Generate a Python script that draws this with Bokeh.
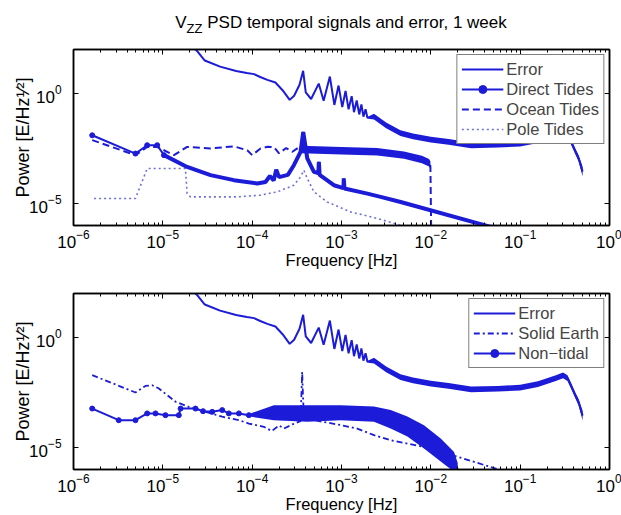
from bokeh.plotting import figure
from bokeh.layouts import column
from bokeh.models import (FixedTicker, LogAxis, Legend, LegendItem, Div,
                          CustomJSTickFormatter)
from bokeh.embed import file_html
from bokeh.resources import INLINE

BLUE = "#1c1cd8"
POLE = "#6f6fdc"
FONT = "Liberation Sans"

title_main = "V"
title_sub = "ZZ"
title_rest = " PSD temporal signals and error, 1 week"
x_label = "Frequency [Hz]"
y_label = "Power [E/Hz\u00b9\u2044\u00b2]"

x_ticks = [1e-6, 1e-5, 1e-4, 1e-3, 1e-2, 1e-1, 1e0]
x_minor = [m * 10.0 ** e for e in range(-6, 0) for m in range(2, 10)]
y_ticks = [1e-5, 1e0]

# ---------------- Error (same in both panels) ----------------
err_f = [2.19e-5, 2.40e-5, 2.95e-5, 4.37e-5, 6.61e-5, 8.71e-5, 1.05e-4, 1.23e-4,
         1.48e-4, 1.82e-4, 2.19e-4, 2.63e-4, 2.95e-4, 3.39e-4, 3.72e-4, 3.98e-4,
         4.57e-4, 5.56e-4, 6.31e-4, 7.41e-4, 8.32e-4, 9.27e-4, 1.02e-3, 1.11e-3,
         1.20e-3, 1.30e-3, 1.38e-3, 1.48e-3, 1.58e-3, 1.67e-3, 1.76e-3, 1.86e-3,
         1.95e-3, 2.31e-3, 3.16e-3, 4.57e-3, 6.31e-3, 1.0e-2, 1.58e-2, 2.82e-2,
         5.62e-2, 0.1, 0.158, 0.251, 0.302, 0.339, 0.372, 0.417, 0.452, 0.5]
err_p = [120, 89.1, 31.6, 16.6, 10.5, 8.51, 7.59, 5.62,
         4.17, 3.16, 1.41, 0.513, 0.794, 2.51, 10.7, 1.12,
         0.562, 2.82, 0.468, 5.89, 0.302, 2.29, 0.240, 1.32,
         0.191, 0.759, 0.141, 0.479, 0.112, 0.316, 0.0891, 0.191,
         0.0794, 0.0891, 0.0355, 0.0158, 0.0112, 7.94e-3, 6.31e-3, 4.37e-3,
         4.68e-3, 5.25e-3, 7.59e-3, 0.0141, 0.0191, 0.0141, 6.31e-3, 2.24e-3, 1.12e-3, 2.82e-4]
err_band_f = [2.0e-3, 2.31e-3, 3.16e-3, 4.57e-3, 6.31e-3, 1.0e-2, 1.58e-2, 2.82e-2, 5.62e-2,
              0.1, 0.158, 0.251, 0.302, 0.339, 0.372, 0.417, 0.452, 0.5]
err_band_lo = [0.0708, 0.0661, 0.0263, 0.0117, 8.32e-3, 5.89e-3, 4.68e-3, 3.24e-3, 3.47e-3,
               3.89e-3, 5.62e-3, 0.0105, 0.0141, 0.0105, 4.68e-3, 1.66e-3, 7.94e-4, 1.70e-4]
err_band_hi = [0.0891, 0.120, 0.0479, 0.0214, 0.0151, 0.0107, 8.51e-3, 5.89e-3, 6.31e-3,
               7.08e-3, 0.0102, 0.0191, 0.0257, 0.0191, 8.51e-3, 3.02e-3, 1.58e-3, 4.68e-4]

# ---------------- Top panel ----------------
dt_f = [1.62e-6, 4.94e-6, 6.68e-6, 8.65e-6, 1.03e-5, 1.87e-5, 3.42e-5, 6.24e-5,
        1.14e-4, 1.41e-4, 1.58e-4, 1.74e-4, 1.86e-4, 2.0e-4, 2.51e-4, 2.93e-4,
        3.48e-4, 3.73e-4, 4.14e-4, 4.91e-4, 5.50e-4, 5.58e-4, 5.69e-4, 8.22e-4,
        1.05e-3, 1.06e-3, 1.08e-3, 1.95e-3, 2.74e-3, 4.59e-3, 4.68e-2, 0.5]
dt_p = [0.0126, 1.86e-3, 4.47e-3, 4.47e-3, 1.58e-3, 4.57e-4, 1.95e-4, 1.15e-4,
        8.13e-5, 9.55e-5, 1.78e-4, 1.12e-4, 3.39e-4, 1.58e-4, 2.0e-4, 5.50e-4,
        2.24e-3, 0.0178, 1.12e-3, 2.75e-4, 2.40e-4, 7.76e-4, 2.0e-4, 6.76e-5,
        5.01e-5, 1.38e-4, 4.79e-5, 2.82e-5, 2.0e-5, 1.17e-5, 8.71e-7, 6.31e-8]

ocean_f = [1.62e-6, 4.94e-6, 6.68e-6, 8.65e-6, 1.33e-5, 1.87e-5, 3.42e-5, 6.24e-5,
           8.81e-5, 1.0e-4, 1.24e-4, 1.48e-4, 1.75e-4, 2.0e-4, 2.40e-4, 2.82e-4,
           3.31e-4, 3.55e-4, 6.31e-4, 1.26e-3, 2.51e-3, 5.01e-3, 7.94e-3, 9.55e-3,
           9.89e-3, 1.012e-2]
ocean_p = [7.59e-3, 1.58e-3, 3.72e-3, 3.72e-3, 1.58e-3, 3.72e-3, 3.16e-3, 3.98e-3,
           2.63e-3, 1.58e-3, 3.16e-3, 3.80e-3, 3.72e-3, 1.91e-3, 3.31e-3, 2.24e-3,
           3.55e-3, 2.82e-3, 3.02e-3, 2.82e-3, 2.51e-3, 1.66e-3, 1.0e-3, 6.31e-4,
           5.01e-4, 2.5e-7]
ocean_band_f = [3.55e-4, 1.0e-3, 2.51e-3, 5.01e-3, 7.94e-3, 9.55e-3, 9.89e-3]
ocean_band_lo = [1.91e-3, 1.70e-3, 1.51e-3, 1.07e-3, 6.76e-4, 4.79e-4, 3.80e-4]
ocean_band_hi = [4.17e-3, 3.72e-3, 3.31e-3, 2.34e-3, 1.48e-3, 1.05e-3, 8.32e-4]

pole_f = [1.70e-6, 4.94e-6, 6.68e-6, 1.79e-5, 1.87e-5, 2.04e-5, 6.81e-5, 1.24e-4,
          1.91e-4, 2.93e-4, 3.48e-4, 3.79e-4, 4.14e-4, 4.91e-4, 6.93e-4, 1.26e-3,
          2.52e-3, 4.59e-3, 1.0e-2]
pole_p = [1.70e-5, 1.70e-5, 3.89e-4, 3.89e-4, 2.82e-5, 2.0e-5, 2.0e-5, 2.40e-5,
          3.39e-5, 6.76e-5, 1.62e-4, 3.24e-4, 1.38e-4, 3.39e-5, 1.17e-5, 4.17e-6,
          2.09e-6, 1.02e-6, 4.5e-7]

# ---------------- Bottom panel ----------------
se_f = [1.62e-6, 4.94e-6, 6.40e-6, 7.60e-6, 9.02e-6, 1.39e-5, 1.95e-5, 3.01e-5,
        4.62e-5, 7.10e-5, 9.18e-5, 1.35e-4, 1.66e-4, 2.0e-4, 2.26e-4, 2.82e-4,
        3.47e-4, 3.56e-4, 3.63e-4, 3.70e-4, 3.80e-4, 4.91e-4, 9.77e-4, 1.50e-3,
        2.31e-3, 3.55e-3, 5.46e-3, 8.38e-3, 1.18e-2, 2.0e-2, 6.05e-2, 0.126]
se_p = [0.0195, 3.16e-3, 6.31e-3, 6.76e-3, 4.79e-3, 1.20e-3, 7.08e-4, 4.17e-4,
        2.51e-4, 1.74e-4, 1.23e-4, 8.71e-5, 5.62e-5, 1.0e-4, 7.24e-5, 1.12e-4,
        1.58e-4, 2.51e-3, 0.0275, 2.51e-3, 2.0e-4, 1.74e-4, 1.05e-4, 7.24e-5,
        3.63e-5, 2.14e-5, 1.51e-5, 1.07e-5, 6.31e-6, 3.80e-6, 9.33e-7, 3.98e-7]

nt_f = [1.62e-6, 3.21e-6, 4.94e-6, 6.68e-6, 8.28e-6, 1.07e-5, 1.51e-5, 1.58e-5,
        2.32e-5, 2.82e-5, 3.57e-5, 4.62e-5, 5.48e-5, 7.10e-5, 9.18e-5, 1.75e-4,
        4.14e-4, 9.77e-4, 2.31e-3, 3.55e-3, 5.46e-3, 8.38e-3, 1.29e-2, 1.82e-2,
        2.0e-2, 2.09e-2]
nt_p = [5.89e-4, 1.74e-4, 1.74e-4, 3.55e-4, 3.55e-4, 2.95e-4, 2.95e-4, 5.89e-4,
        5.89e-4, 4.47e-4, 4.17e-4, 5.01e-4, 3.55e-4, 3.55e-4, 2.95e-4, 3.80e-4,
        3.55e-4, 3.80e-4, 3.31e-4, 1.91e-4, 8.91e-5, 3.02e-5, 7.94e-6, 2.24e-6,
        1.0e-6, 5.0e-7]
nt_band_f = [9.18e-5, 1.75e-4, 4.14e-4, 9.77e-4, 2.31e-3, 3.55e-3, 5.46e-3, 8.38e-3,
             1.29e-2, 1.82e-2, 2.0e-2]
nt_band_lo = [2.6e-4, 1.74e-4, 1.48e-4, 1.74e-4, 1.48e-4, 7.24e-5, 3.16e-5, 8.91e-6,
              2.29e-6, 7.94e-7, 5.0e-7]
nt_band_hi = [3.3e-4, 8.32e-4, 8.32e-4, 8.32e-4, 7.24e-4, 5.01e-4, 2.57e-4, 1.02e-4,
              2.57e-5, 6.31e-6, 2.0e-6]


def style_axis(ax, ticker, labels=True):
    ax.ticker = ticker
    ax.axis_line_color = "black"
    ax.axis_line_width = 1.5
    ax.major_tick_line_color = "black"
    ax.minor_tick_line_color = "black"
    ax.major_tick_in = 5
    ax.major_tick_out = 0
    ax.minor_tick_in = 3
    ax.minor_tick_out = 0
    ax.major_label_text_font = FONT
    ax.major_label_text_font_size = "17px"
    ax.major_label_text_color = "black"
    ax.axis_label_text_font = FONT
    ax.axis_label_text_font_size = "16.5px"
    ax.axis_label_text_font_style = "normal"
    ax.axis_label_text_color = "black"
    if not labels:
        ax.formatter = CustomJSTickFormatter(code="return ''")
        ax.major_label_text_font_size = "1px"
        ax.major_label_standoff = 0


def make_fig(border_top, border_bottom):
    p = figure(x_axis_type="log", y_axis_type="log", x_range=(1e-6, 1), y_range=(1e-6, 1e2),
               frame_width=536, frame_height=176, min_border_left=73, min_border_right=12,
               min_border_top=border_top, min_border_bottom=border_bottom,
               output_backend="svg", toolbar_location=None)
    p.xgrid.visible = False
    p.ygrid.visible = False
    p.outline_line_color = "black"
    p.outline_line_width = 1.5
    style_axis(p.xaxis[0], FixedTicker(ticks=x_ticks, minor_ticks=x_minor))
    p.xaxis[0].major_label_standoff = 4
    p.xaxis[0].axis_label = x_label
    p.xaxis[0].axis_label_standoff = 0
    style_axis(p.yaxis[0], FixedTicker(ticks=y_ticks, minor_ticks=[]))
    p.yaxis[0].major_label_standoff = 12
    p.yaxis[0].axis_label = y_label
    p.yaxis[0].axis_label_standoff = -7
    p.yaxis[0].axis_label_text_font_size = "18px"
    top = LogAxis()
    style_axis(top, FixedTicker(ticks=x_ticks, minor_ticks=x_minor), labels=False)
    p.add_layout(top, "above")
    right = LogAxis()
    style_axis(right, FixedTicker(ticks=y_ticks, minor_ticks=[]), labels=False)
    p.add_layout(right, "right")
    return p


def legend_for(p, items):
    lg = Legend(items=items, location="top_right", margin=5, padding=4, spacing=0,
                glyph_width=42, glyph_height=20, label_height=20, label_standoff=3,
                label_text_font=FONT, label_text_font_size="16.5px",
                border_line_color="black", border_line_width=1.5,
                background_fill_color="white", background_fill_alpha=1.0)
    p.add_layout(lg)


title = Div(text=(f'<div style="width:536px;margin-left:73px;text-align:center;'
                  f'font-family:\'Liberation Sans\';font-size:17px;line-height:20px;'
                  f'padding-top:13px;color:black;white-space:nowrap">'
                  f'{title_main}<sub style="font-size:13px;vertical-align:-5px">{title_sub}</sub>'
                  f'{title_rest}</div>'),
            width=621, height=36, margin=(0, 0, 0, 0))

# ================= top figure =================
p1 = make_fig(13, 45)
p1.varea(x=err_band_f, y1=err_band_lo, y2=err_band_hi, color=BLUE)
r_err1 = p1.line(err_f, err_p, color=BLUE, line_width=2)

p1.varea(x=ocean_band_f, y1=ocean_band_lo, y2=ocean_band_hi, color=BLUE)
r_oc = p1.line(ocean_f, ocean_p, color=BLUE, line_width=2, line_dash="7 4")

r_pole = p1.line(pole_f, pole_p, color=POLE, line_width=1.6, line_dash="2 3")

r_dt = p1.line(dt_f, dt_p, color=BLUE, line_width=2)
p1.line(dt_f[4:], dt_p[4:], color=BLUE, line_width=4)
r_dt_m = p1.scatter(dt_f[:5], dt_p[:5], size=5, color=BLUE)

legend_for(p1, [LegendItem(label="Error", renderers=[r_err1]),
                LegendItem(label="Direct Tides", renderers=[r_dt, r_dt_m]),
                LegendItem(label="Ocean Tides", renderers=[r_oc]),
                LegendItem(label="Pole Tides", renderers=[r_pole])])

# ================= bottom figure =================
p2 = make_fig(22, 45)
p2.varea(x=err_band_f, y1=err_band_lo, y2=err_band_hi, color=BLUE)
r_err2 = p2.line(err_f, err_p, color=BLUE, line_width=2)

r_se = p2.line(se_f, se_p, color=BLUE, line_width=1.8, line_dash="6 3 2 3")

p2.varea(x=nt_band_f, y1=nt_band_lo, y2=nt_band_hi, color=BLUE)
r_nt = p2.line(nt_f, nt_p, color=BLUE, line_width=2)
r_nt_m = p2.scatter(nt_f[:15], nt_p[:15], size=5, color=BLUE)

legend_for(p2, [LegendItem(label="Error", renderers=[r_err2]),
                LegendItem(label="Solid Earth", renderers=[r_se]),
                LegendItem(label="Non\u2212tidal", renderers=[r_nt, r_nt_m])])

layout = column(title, p1, p2, spacing=0)
open("out.html", "w").write(file_html(layout, INLINE))
